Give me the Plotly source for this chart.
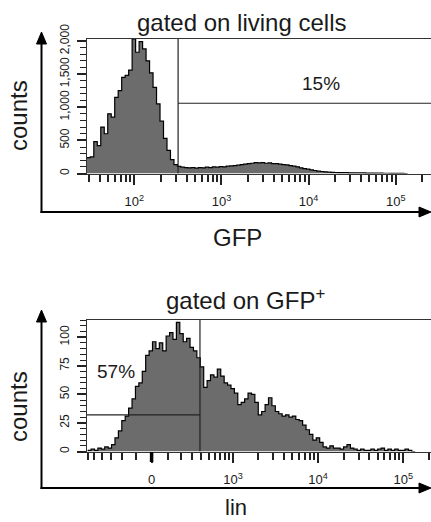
import numpy as np
import plotly.graph_objects as go

W, H = 431, 522

# ---------------- data ----------------
# Top panel: GFP histogram, bins uniform in log10(GFP)
gfp_bin_start_log = 1.455
gfp_bin_width_log = 0.04
gfp_counts = [240, 250, 480, 420, 700, 600, 900, 850, 1150, 1250, 1450, 1480, 1560, 2030,
              1830, 1990, 1880, 1700, 1520, 1300, 1050, 790, 530, 350, 210, 135, 108, 95,
              90, 85, 90, 80, 90, 85, 95, 90, 100, 95, 105, 100, 110, 115, 120, 125, 135,
              140, 150, 155, 165, 160, 165, 155, 160, 150, 150, 140, 135, 130, 120, 110,
              100, 85, 75, 65, 55, 45, 35, 30, 25, 20, 18, 15, 14, 12, 12, 10, 10, 9, 8,
              8, 7, 6, 6, 5, 5, 4, 4, 3, 3, 2, 2, 0]
gfp_gate = 318          # GFP threshold of the positive gate
gfp_gate_level = 1060   # count level of gate bar
gfp_pct = "15%"
gfp_major_ticks = [1e2, 1e3, 1e4, 1e5]
gfp_major_text = ["10<sup>2</sup>", "10<sup>3</sup>", "10<sup>4</sup>", "10<sup>5</sup>"]
gfp_minor_ticks = [30, 40, 50, 60, 70, 80, 90,
                   200, 300, 400, 500, 600, 700, 800, 900,
                   2000, 3000, 4000, 5000, 6000, 7000, 8000, 9000,
                   2e4, 3e4, 4e4, 5e4, 6e4, 7e4, 8e4, 9e4, 2e5]
top_y_ticks = [0, 500, 1000, 1500, 2000]
top_y_text = ["0", "500", "1,000", "1,500", "2,000"]

# Bottom panel: lin histogram, bins uniform in biexponential display units
lin_bin_start_disp = 1.30
lin_bin_width_disp = 0.04
lin_counts = [1, 2, 1, 3, 2, 4, 3, 6, 12, 18, 27, 31, 38, 46, 57, 60, 70, 84, 88, 96,
              90, 95, 88, 101, 104, 98, 113, 103, 96, 99, 91, 88, 82, 74, 56, 62, 67,
              65, 72, 66, 60, 58, 55, 51, 41, 43, 46, 51, 50, 43, 32, 35, 41, 47, 40,
              35, 33, 31, 32, 30, 31, 28, 27, 23, 19, 15, 10, 12, 8, 4, 3, 5, 3, 3, 2,
              4, 6, 3, 2, 1, 2, 1, 1, 2, 1, 2, 3, 1, 2, 1, 2, 1, 1, 2, 1, 0]
lin_gate = 383          # lin threshold
lin_gate_level = 32     # count level of gate bar
lin_pct = "57%"
lin_major_ticks = [0, 1e3, 1e4, 1e5]
lin_major_text = ["0", "10<sup>3</sup>", "10<sup>4</sup>", "10<sup>5</sup>"]
lin_minor_ticks = [-900, -800, -700, -600, -500, -400, -300, -200, -100,
                   100, 200, 300, 400, 500, 600, 700, 800, 900,
                   2000, 3000, 4000, 5000, 6000, 7000, 8000, 9000,
                   2e4, 3e4, 4e4, 5e4, 6e4, 7e4, 8e4, 9e4, 2e5]
bot_y_ticks = [0, 25, 50, 75, 100]
bot_y_text = ["0", "25", "50", "75", "100"]

# biexponential-like display transform for the bottom axis
BIEX_W = 224.0
BIEX_OFF = np.log10(BIEX_W / 2)
def biex(v):
    return np.arcsinh(np.asarray(v, dtype=float) / BIEX_W) / np.log(10) + BIEX_OFF

# ---------------- helpers ----------------
def px(x):
    return x / W
def py(y):
    return 1 - y / H

FONT = "Liberation Sans, Arial, Helvetica, sans-serif"
TXT = "#1a1a1a"
FILL = "#6c6c6c"

fig = go.Figure()

# top histogram (step outline, log axis)
gfp_edges_log = gfp_bin_start_log + gfp_bin_width_log * np.arange(len(gfp_counts) + 1)
gx = list(10 ** gfp_edges_log)
gy = list(gfp_counts) + [gfp_counts[-1]]
fig.add_trace(go.Scatter(x=gx, y=gy, mode="lines", line=dict(color="black", width=1.2, shape="hv"),
                         fill="tozeroy", fillcolor=FILL, xaxis="x", yaxis="y", hoverinfo="skip"))
# top gate
fig.add_trace(go.Scatter(x=[gfp_gate, gfp_gate, None, gfp_gate, 1e7],
                         y=[0, 5000, None, gfp_gate_level, gfp_gate_level],
                         mode="lines", line=dict(color="#222", width=1.2),
                         xaxis="x", yaxis="y", hoverinfo="skip"))

# bottom histogram
lin_edges = lin_bin_start_disp + lin_bin_width_disp * np.arange(len(lin_counts) + 1)
ly = list(lin_counts) + [lin_counts[-1]]
fig.add_trace(go.Scatter(x=list(lin_edges), y=ly, mode="lines", line=dict(color="black", width=1.2, shape="hv"),
                         fill="tozeroy", fillcolor=FILL, xaxis="x2", yaxis="y2", hoverinfo="skip"))
gd = float(biex(lin_gate))
fig.add_trace(go.Scatter(x=[gd, gd, None, 0.0, gd],
                         y=[0, 500, None, lin_gate_level, lin_gate_level],
                         mode="lines", line=dict(color="#222", width=1.2),
                         xaxis="x2", yaxis="y2", hoverinfo="skip"))

axis_common = dict(showline=True, linecolor="#333", linewidth=1, showgrid=False, zeroline=False,
                   automargin=False,
                   ticks="outside", tickcolor="#222", tickwidth=1.5,
                   tickfont=dict(family=FONT, size=12, color=TXT))
xtickfont = dict(family=FONT, size=13, color=TXT)

top_xrange = [1.457, 5.405]
bot_xrange = [1.292, 5.325]

fig.update_layout(
    template="none",
    width=W, height=H, autosize=False,
    margin=dict(l=0, r=0, t=0, b=0, pad=0),
    paper_bgcolor="white", plot_bgcolor="white",
    showlegend=False,
    xaxis=dict(axis_common, type="log", domain=[px(87), 1], range=top_xrange, anchor="y",
               mirror=True, ticklen=10, tickmode="array", tickfont=xtickfont,
               tickvals=gfp_major_ticks, ticktext=gfp_major_text, ticklabelstandoff=6,
               minor=dict(tickmode="array", tickvals=gfp_minor_ticks, ticks="outside",
                          ticklen=7, tickwidth=1.5, tickcolor="#222")),
    yaxis=dict(axis_common, domain=[py(173.5), py(39)], range=[0, 2030], anchor="x",
               ticklen=9, tickangle=-90, tickmode="array",
               tickvals=top_y_ticks, ticktext=top_y_text, ticklabelstandoff=3,
               minor=dict(tickmode="array", tickvals=list(range(0, 2001, 100)), ticks="outside",
                          ticklen=6, tickwidth=1, tickcolor="#222")),
    xaxis2=dict(axis_common, domain=[px(87), 1], range=bot_xrange, anchor="y2",
                mirror=True, ticklen=10, tickmode="array", tickfont=xtickfont,
                tickvals=[float(v) for v in biex(lin_major_ticks)], ticktext=lin_major_text,
                ticklabelstandoff=6,
                minor=dict(tickmode="array", tickvals=[float(v) for v in biex(lin_minor_ticks)],
                           ticks="outside", ticklen=7, tickwidth=1.5, tickcolor="#222")),
    yaxis2=dict(axis_common, domain=[py(451.5), py(320)], range=[0, 115], anchor="x2",
                ticklen=9, tickangle=-90, tickmode="array",
                tickvals=bot_y_ticks, ticktext=bot_y_text, ticklabelstandoff=3,
                minor=dict(tickmode="array", tickvals=list(range(0, 116, 5)), ticks="outside",
                           ticklen=6, tickwidth=1, tickcolor="#222")),
)

shapes = []
def arrow_h(y, x0, xtip):
    shapes.append(dict(type="line", xref="paper", yref="paper", x0=px(x0), x1=px(xtip - 8),
                       y0=py(y), y1=py(y), line=dict(color="black", width=2)))
    path = f"M {px(xtip-12)},{py(y-5)} L {px(xtip)},{py(y)} L {px(xtip-12)},{py(y+5)} Z"
    shapes.append(dict(type="path", xref="paper", yref="paper", path=path,
                       fillcolor="black", line=dict(color="black", width=1)))
def arrow_v(x, y0, ytip):
    shapes.append(dict(type="line", xref="paper", yref="paper", x0=px(x), x1=px(x),
                       y0=py(y0), y1=py(ytip + 8), line=dict(color="black", width=2)))
    path = f"M {px(x-5)},{py(ytip+12)} L {px(x)},{py(ytip)} L {px(x+5)},{py(ytip+12)} Z"
    shapes.append(dict(type="path", xref="paper", yref="paper", path=path,
                       fillcolor="black", line=dict(color="black", width=1)))

arrow_h(212, 40.5, 431)
arrow_v(41.5, 213, 32)
arrow_h(488, 40.5, 431)
arrow_v(41.5, 489, 310)

# thick zero tick on biexponential axis
z0 = float(biex(0))
shapes.append(dict(type="line", xref="x2", yref="paper", x0=z0, x1=z0,
                   y0=py(452), y1=py(462), line=dict(color="black", width=3.5)))
fig.update_layout(shapes=shapes)

def ann(text, x, y, size, angle=0):
    fig.add_annotation(text=text, x=px(x), y=py(y), xref="paper", yref="paper",
                       showarrow=False, xanchor="center", yanchor="middle", textangle=angle,
                       font=dict(family=FONT, size=size, color=TXT))

ann("gated on living cells", 241, 22, 24)
ann("counts", 18, 116, 24, -90)
ann("GFP", 238, 237, 24)
ann(gfp_pct, 321, 83, 19)
ann("gated on GFP<sup>+</sup>", 246, 299, 24)
ann("counts", 18, 407, 24, -90)
ann("lin", 236, 507, 22)
ann(lin_pct, 116, 371, 19)

fig.write_html("out.html")
